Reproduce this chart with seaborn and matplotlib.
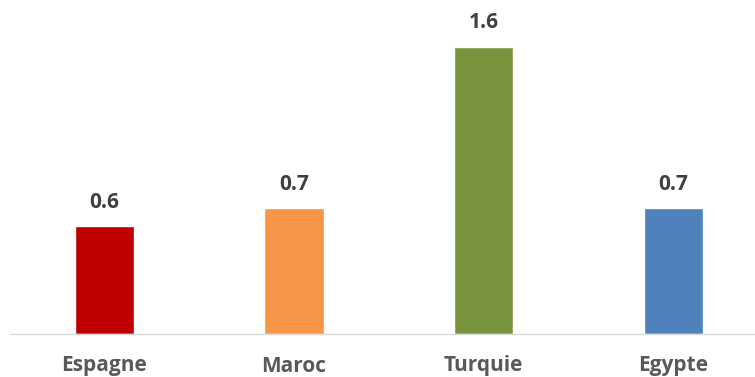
import matplotlib
matplotlib.use("Agg")
import matplotlib.pyplot as plt
import seaborn as sns
import pandas as pd

# Data
pays = ["Espagne", "Maroc", "Turquie", "Egypte"]
valeurs = [0.6, 0.7, 1.6, 0.7]
couleurs = ["#C00000", "#F79646", "#77933C", "#4F81BD"]

df = pd.DataFrame({"pays": pays, "valeur": valeurs})

sns.set_theme(style="white")
plt.rcParams["font.family"] = ["Open Sans", "DejaVu Sans"]

fig = plt.figure(figsize=(7.55, 3.77), dpi=100)
ax = fig.add_axes([9.7 / 755, 43 / 377, 745.3 / 755, 334 / 377])

sns.barplot(data=df, x="pays", y="valeur", hue="pays", palette=couleurs,
            width=0.314, legend=False, ax=ax, saturation=1)

ax.set_xlim(-0.5, -0.5 + 745.3 / 189.6)
ax.set_ylim(0, 1.6 * 334 / 287.3)

# value labels above each bar
for p, v in zip(ax.patches, valeurs):
    ax.annotate(f"{v:.1f}", (p.get_x() + p.get_width() / 2, p.get_height()),
                xytext=(0, 13.5), textcoords="offset points",
                ha="center", va="baseline", fontsize=15, fontweight="bold",
                color="#404040")

ax.set_xlabel("")
ax.set_ylabel("")
ax.set_yticks([])
ax.tick_params(axis="x", length=0, pad=27, labelsize=15, labelcolor="#595959")
for lab in ax.get_xticklabels():
    lab.set_fontweight("bold")
    lab.set_verticalalignment("baseline")

for side in ["top", "right", "left"]:
    ax.spines[side].set_visible(False)
ax.spines["bottom"].set_color("#D9D9D9")
ax.spines["bottom"].set_linewidth(1)

fig.savefig("out.png", dpi=100)
